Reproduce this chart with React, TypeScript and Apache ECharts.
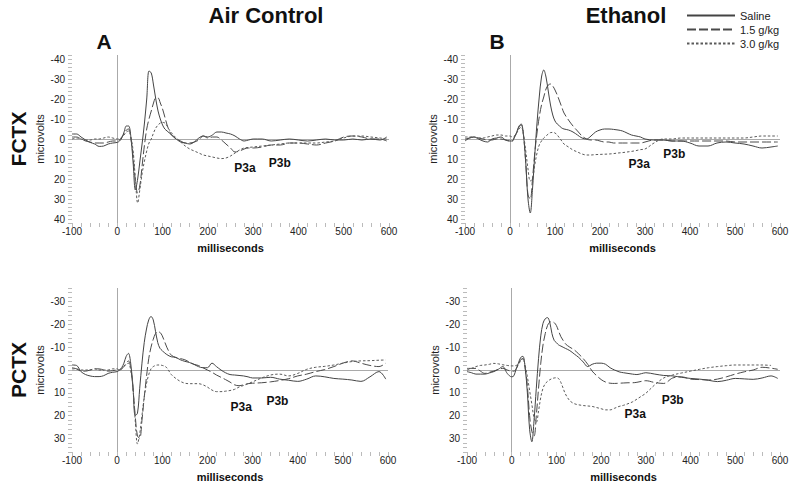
import React, { useEffect, useRef } from 'react';
import * as echarts from 'echarts';

// time points (ms)
const T = [-100,-90,-80,-70,-60,-50,-40,-30,-20,-10,
  0,5,10,15,20,25,30,35,40,45,50,55,60,65,70,75,80,85,90,95,100,105,110,115,120,
  130,140,150,160,170,180,190,200,210,220,230,240,250,260,270,280,290,300,
  320,340,360,380,400,420,440,460,480,500,520,540,560,580,595];

// Panel A: FCTX, Air Control (microvolts)
const aSaline = [-2.5,-2.5,-1,0.5,1.7,2.5,3.7,3.5,2.5,2,
  1.7,1,-0.5,-3.5,-6.5,-6.5,-1,12,25.5,20,11,2,-8,-20,-34,-33,-27,-20,-14,-10,-7,-5,-4,-3,-2,
  0,1.5,2,2.5,1.5,-0.5,-1.5,-1,-2,-3.5,-3.5,-3,-2.5,-1.5,0,1,0.5,0,
  0,1,0.5,0,0.5,1,0.5,0,0.5,0.5,0,0.5,0,0.5,-1];
const aLow = [-1,-1,0,1,1.5,2,2,2,1.5,1,
  1,0.5,-1,-2.5,-4.5,-5,-0.5,9,21,27,23,13,3,-5,-10,-14,-18,-20.5,-20.5,-18,-15,-11,-7,-4,-2,
  0,1,2,2,1.5,0.5,-1.5,-0.5,-1,-1,0.5,2.5,4.5,6.5,6,5,4.5,4.5,
  4,3,3,2,2,2.5,3,2,1,-1,-1.5,-1,0,0,1];
const aHigh = [0,-0.5,0,0.5,0.5,0,0,-0.5,-1,-0.5,
  0,0,-1,-2,-3.5,-4,-1,6,20,32,25,17,11,6,2,0,-3,-5.5,-7,-8,-8.3,-8,-6.5,-4.5,-3,
  -0.5,1.5,3.5,5,6,7,8,8.5,9,9.5,9.8,9.5,8.5,7,5.5,4.5,4.2,4,
  3.5,3,2.5,2,2,2,2,1.5,1,-0.5,-1.5,-1.5,-1,-0.5,0];

// Panel B: FCTX, Ethanol
const bSaline = [1,-0.5,-1,0,1,1.5,0,-0.5,-1,0.5,
  1,1,-1,-3.5,-6.5,-7.5,-2,12,30,37,25,8,-8,-21,-31,-34.5,-31,-24,-17,-12,-9,-7.5,-6.5,-5.5,-5,
  -4.5,-3.5,-2,-0.5,0,-1.5,-3.5,-4.5,-5,-5,-4.8,-4.5,-4,-3,-2,-1.5,-1,0,
  0.5,0.5,1,1,2,3.5,3.5,2,1.5,2,2.5,3.5,4.5,4,3.5];
const bLow = [0,-0.5,-1,-0.5,0,0.5,0.5,0,0,0.5,
  1,1,-1,-3,-6,-7,-2,12,28,30,20,7,-3,-11,-17,-21,-25,-27,-27.5,-26.5,-24.5,-22,-19,-16,-13,
  -9.5,-6.5,-4,-1.5,0,0.5,0.5,1,1.5,1.5,2,2,2,2,2,2,2,1.5,
  0.5,0.5,1,1,1,1,1,1,1,1.5,1.5,1.5,1.5,1.5,1.5];
const bHigh = [-1,-1,-1,-0.5,-0.5,-1,-1.5,-2,-2,-1.5,
  -1.5,-1,-1.5,-3,-5,-6,-2,6,15,21,20,13,7,3,1,-0.5,-1.5,-2.5,-3.2,-3.3,-3,-2,-0.5,1,2.5,
  4,5.5,6.5,7.5,8,8,7.8,7.7,7.6,7.5,7.3,7,6.8,6.5,6.2,5.8,5.3,5,
  2,0,0,-0.5,-0.5,-0.5,-0.5,-0.5,-0.5,-0.5,-0.5,-1,-1.5,-1.5,-1.5];

// Panel C: PCTX, Air Control
const cSaline = [-2.2,-2,0.7,2,2.6,2.9,2.9,2.5,1.5,1,
  0.7,0,-1,-3,-6,-7.3,-3,7,20,19,8,-3,-12,-18,-22,-23.5,-22,-17,-12,-9.5,-8.5,-7.5,-6.8,-6.2,-5.8,
  -5.5,-4.5,-3.8,-3.3,-2.5,-1.5,-1,-1,-3,-1.5,0,1.2,2,2.2,2.4,2.6,3,3.5,
  3.5,3.2,4,4.5,5,4,2.6,3,3.7,4,4.4,5,3,0.7,4];
const cLow = [-1,-0.5,0.5,0.5,0,-0.5,-0.5,0,0.5,0.3,
  0,0,-0.5,-1.5,-3,-4,-1,8,20,29,30,22,12,3,-5,-10,-13.5,-16,-16.8,-16.5,-15,-12.5,-10,-8,-6.5,
  -5.5,-5,-4.5,-3.5,-2.5,-2,-1,0,1,2.2,3.2,4.2,5.3,6.5,6.9,6.5,6,5.8,
  5.6,5.2,4.6,3.8,2.6,1.8,0.7,-0.2,-1.5,-3,-4,-3,-2,-1.5,-3];
const cHigh = [-0.5,-0.5,0,0,0,-0.5,0,0,0,-0.5,
  -0.5,0,-0.5,-1.5,-2.5,-3,0,8,22,32.5,28,20,12,6,2,-0.5,-1.5,-2,-2.2,-2.2,-2,-1.7,-1,0.5,2,
  3.7,5,5.8,6,6,6,6.5,7.5,8.8,9.5,9.5,9.3,9,8.5,7.5,6.8,6,5.2,
  3.5,2.2,1.8,2.6,1.5,-0.3,-1.2,-1.6,-2.2,-3,-3.7,-4,-4.1,-4.3,-4.4];

// Panel D: PCTX, Ethanol
const dSaline = [0.7,1.2,1.8,1.8,1.8,1.3,0.7,-0.3,-1.5,1.5,
  3,2.5,-0.5,-3,-5.5,-6,-1,10,26,31.5,22,8,-5,-15,-20.5,-22.5,-23,-21,-16,-13,-12,-11,-10.5,-10,-9.5,
  -8.5,-7,-5.5,-3.5,-1.5,-2.5,-3,-3,-2.5,-1,0,0.8,1.2,1.5,1.8,2,1.6,1.2,
  1.8,2.4,2.6,3.2,3.7,4,4.5,5.1,4.5,3.7,3.9,4.1,3.5,2.6,3.7];
const dLow = [-0.7,-0.7,-0.7,0.5,1.5,1,0.5,-0.3,-0.7,0,
  0.5,0.5,-0.5,-2.5,-4.5,-5,-1,7,20,27,29,20,8,-3,-11,-16,-19.5,-21,-21.2,-20.8,-19.5,-17,-14.6,-13,-11.5,
  -10,-8.8,-7,-5,-2.5,0.5,2.5,4.2,5.3,5.8,5.9,5.8,5.7,5.6,5.6,5.4,5,4.7,
  5.5,5.9,3.5,3,4,4.2,4.4,4,3,1.8,0.8,0,-1.2,-0.8,-0.3];
const dHigh = [0,-0.7,-1.5,-2,-2.2,-2.5,-2.9,-2.7,-2.3,-2,
  -1.8,-1.8,-2,-2.5,-4,-5,-2,3,9,15,21,23,18,12,8,6,5,4.3,3.8,3.5,3.4,3.8,5.5,8,10.5,
  13.5,14.8,15.3,15.6,15.8,16,16.5,17,17.5,17.5,16.8,16,15.5,14.8,14,12.8,11.5,10.2,
  6.5,3.5,2.2,1.3,0.5,-0.3,-1,-1.5,-1.9,-2.2,-2.2,-2.2,-2.2,-2];

const SERIES_NAMES = ['Saline', '1.5 g/kg', '3.0 g/kg'];
const PANELS = [
  [aSaline, aLow, aHigh],
  [bSaline, bLow, bHigh],
  [cSaline, cLow, cHigh],
  [dSaline, dLow, dHigh],
];
const Y_LIMITS = [42, 42, 36, 36];
const X_MIN = -100;
const X_MAX = 600;
// annotation anchor points [ms, microvolts]
const P3A_POS = [[282, 14.3], [287, 12.3], [275, 16.2], [276, 19.3]];
const P3B_POS = [[359, 11.8], [365, 7.3], [355, 13.6], [360, 13.2]];

const FF = '"Liberation Sans", Arial, Helvetica, sans-serif';

const GRIDS = [
  { left: 72, top: 55, width: 317, height: 168 },
  { left: 465, top: 55, width: 315, height: 168 },
  { left: 72, top: 288, width: 316, height: 164 },
  { left: 467, top: 288, width: 313, height: 164 },
];

const LINE_STYLES = [
  { color: '#444', width: 1, type: 'solid' },
  { color: '#4a4a4a', width: 1, type: [9, 3] },
  { color: '#5a5a5a', width: 1, type: [2.5, 2] },
];

function buildOption() {
  const xAxis = GRIDS.map((_, i) => ({
    type: 'value',
    gridIndex: i,
    min: X_MIN,
    max: X_MAX,
    interval: 20,
    axisLine: { show: false, onZero: false },
    axisTick: { show: true, length: 4, lineStyle: { color: '#bbb' } },
    splitLine: { show: false },
    axisLabel: {
      margin: 3,
      fontSize: 10,
      fontFamily: FF,
      color: '#222',
      formatter: (v: number) => (v % 100 === 0 ? String(v) : ''),
    },
    name: 'milliseconds',
    nameLocation: 'middle',
    nameGap: 19,
    nameTextStyle: { fontSize: 11, fontWeight: 'bold', fontFamily: FF, color: '#111' },
  }));
  const yAxis = GRIDS.map((_, i) => ({
    type: 'value',
    gridIndex: i,
    inverse: true,
    min: -Y_LIMITS[i],
    max: Y_LIMITS[i],
    interval: 2,
    axisLine: { show: false, onZero: false },
    axisTick: { show: true, length: 4, lineStyle: { color: '#bbb' } },
    splitLine: { show: false },
    axisLabel: {
      margin: 7,
      fontSize: 10,
      fontFamily: FF,
      color: '#222',
      formatter: (v: number) => (v % 10 === 0 ? String(v) : ''),
    },
    name: 'microvolts',
    nameLocation: 'middle',
    nameGap: 27,
    nameTextStyle: { fontSize: 11, fontFamily: FF, color: '#222' },
  }));

  const series: any[] = [];
  PANELS.forEach((arrs, p) => {
    arrs.forEach((arr, k) => {
      const s: any = {
        type: 'line',
        name: SERIES_NAMES[k],
        xAxisIndex: p,
        yAxisIndex: p,
        data: T.map((t, i) => [t, arr[i]]),
        symbol: 'none',
        smooth: 0.35,
        lineStyle: LINE_STYLES[k],
        itemStyle: { color: LINE_STYLES[k].color, opacity: 0 },
        emphasis: { disabled: true },
        z: 3,
      };
      if (k === 0) {
        s.markLine = {
          silent: true,
          symbol: ['none', 'none'],
          label: { show: false },
          lineStyle: { color: '#aaa', width: 1, type: 'solid', opacity: 1 },
          emphasis: { disabled: true },
          data: [{ yAxis: 0 }, { xAxis: 0 }],
          z: 1,
        };
      }
      if (k === 2) {
        s.markPoint = {
          silent: true,
          symbol: 'circle',
          symbolSize: 0,
          itemStyle: { color: 'transparent' },
          label: {
            show: true,
            position: 'inside',
            formatter: '{b}',
            fontSize: 12,
            fontWeight: 'bold',
            fontFamily: FF,
            color: '#111',
          },
          data: [
            { name: 'P3a', coord: P3A_POS[p] },
            { name: 'P3b', coord: P3B_POS[p] },
          ],
        };
      }
      series.push(s);
    });
  });

  const txt = (text: string, x: number, y: number, font: string, rotation = 0) => ({
    type: 'text',
    x,
    y,
    rotation,
    silent: true,
    style: {
      text,
      font,
      fill: '#111',
      align: 'center',
      verticalAlign: 'middle',
      textAlign: 'center',
      textVerticalAlign: 'middle',
    },
  });

  return {
    animation: false,
    backgroundColor: '#fff',
    grid: GRIDS.map((g) => ({ ...g, containLabel: false })),
    xAxis,
    yAxis,
    legend: {
      data: SERIES_NAMES,
      orient: 'vertical',
      left: 686,
      top: 10,
      padding: 0,
      itemWidth: 48,
      itemHeight: 10,
      itemGap: 3,
      itemStyle: { opacity: 0, borderWidth: 0 },
      textStyle: { fontSize: 11, fontFamily: FF, color: '#222' },
      selectedMode: false,
    },
    graphic: [
      txt('Air Control', 266, 15, `bold 22px ${FF}`),
      txt('Ethanol', 626, 15, `bold 22px ${FF}`),
      txt('A', 104, 41, `bold 21px ${FF}`),
      txt('B', 497, 41, `bold 21px ${FF}`),
      txt('FCTX', 18, 139, `bold 21px ${FF}`, Math.PI / 2),
      txt('PCTX', 18, 370, `bold 21px ${FF}`, Math.PI / 2),
    ],
    series,
  };
}

export default function App() {
  const ref = useRef<HTMLDivElement>(null);
  useEffect(() => {
    if (!ref.current) return;
    const chart = echarts.init(ref.current, undefined, { renderer: 'svg' });
    chart.setOption(buildOption() as any);
    return () => chart.dispose();
  }, []);
  return (
    <div
      ref={ref}
      style={{ position: 'fixed', left: 0, top: 0, width: 800, height: 496, background: '#fff' }}
    />
  );
}
